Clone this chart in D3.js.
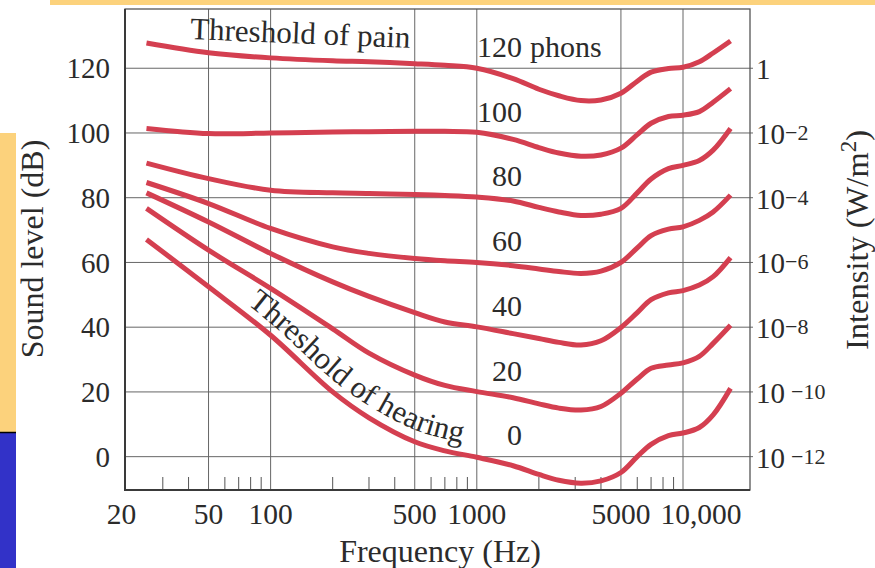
<!DOCTYPE html>
<html>
<head>
<meta charset="utf-8">
<script src="https://cdn.jsdelivr.net/npm/d3@7"></script>
<style>
  html, body { margin: 0; padding: 0; background: #fff; overflow: hidden; }
  svg { display: block; font-family: "Liberation Serif", "Times New Roman", serif; }
</style>
</head>
<body>
<script>
// Equal-loudness contours, values (Hz, dB)
const freqs = [25, 50, 100, 200, 300, 500, 700, 1000, 1500, 2000, 2500, 3200, 4000, 5000, 6000, 7000, 8500, 10000, 12000, 14000, 17000];
const phon120 = [127.8, 124.8, 123.2, 122.3, 122.0, 121.4, 120.9, 120.0, 116.8, 113.5, 111.5, 110.0, 110.2, 112.3, 116.0, 118.8, 119.9, 120.3, 122.0, 124.7, 128.4];
const phon100 = [101.4, 99.8, 100.0, 100.3, 100.4, 100.5, 100.5, 100.2, 98.0, 95.5, 93.8, 92.8, 93.2, 95.3, 99.5, 103.0, 105.1, 105.5, 106.6, 109.5, 113.7];
const phon80  = [90.7, 85.9, 82.3, 81.5, 81.3, 81.0, 80.7, 80.2, 79.0, 77.0, 75.6, 74.5, 74.9, 76.7, 81.5, 85.8, 89.0, 90.0, 91.5, 94.7, 101.4];
const phon60  = [84.7, 78.2, 70.5, 64.8, 62.8, 61.2, 60.5, 60.0, 59.0, 58.0, 57.2, 56.6, 57.3, 60.0, 64.5, 68.3, 70.3, 71.0, 73.0, 75.6, 80.8];
const phon40  = [81.5, 72.5, 62.8, 54.0, 49.5, 44.5, 41.6, 40.1, 38.0, 36.5, 35.3, 34.5, 35.8, 39.9, 44.5, 48.5, 50.6, 51.3, 53.0, 55.6, 61.5];
const phon20  = [76.7, 63.8, 52.0, 39.5, 32.0, 25.2, 22.0, 20.1, 18.2, 16.3, 15.0, 14.4, 15.5, 19.6, 24.0, 27.3, 28.3, 29.0, 31.0, 35.0, 40.6];
const phon0   = [67.1, 52.5, 37.5, 20.0, 12.0, 4.6, 1.8, -0.2, -2.8, -5.5, -7.3, -8.2, -7.5, -4.9, 0.0, 3.8, 6.5, 7.3, 9.0, 12.9, 21.1];

const phonLevels = [120, 100, 80, 60, 40, 20, 0];
const phonCurves = [phon120, phon100, phon80, phon60, phon40, phon20, phon0];

const dbTicks = [0, 20, 40, 60, 80, 100, 120];
const intensityExp = [-12, -10, -8, -6, -4, -2, 0];
const freqTicks = [20, 50, 100, 500, 1000, 5000, 10000];
const gridFreqs = [50, 100, 500, 1000, 5000, 10000];
const minorFreqs = [30, 40, 60, 70, 80, 90, 200, 300, 400, 600, 700, 800, 900, 2000, 3000, 4000, 6000, 7000, 8000, 9000];

const width = 875, height = 568;
const textColor = "#2b2b2b";
const curveColor = "#d43f50";

const svg = d3.select("body").append("svg")
    .attr("width", width)
    .attr("height", height);

// slide decorations
svg.append("rect").attr("x", 50).attr("y", 0).attr("width", 825).attr("height", 5).attr("fill", "#fcd27c");
svg.append("rect").attr("x", 0).attr("y", 133).attr("width", 16).attr("height", 299).attr("fill", "#fcd27c");
svg.append("rect").attr("x", 0).attr("y", 432).attr("width", 16).attr("height", 136).attr("fill", "#3232c8");
svg.append("line").attr("x1", 0).attr("x2", 16).attr("y1", 432.5).attr("y2", 432.5).attr("stroke", "#000").attr("stroke-width", 1.5);

// scales
const x = d3.scaleLog().domain([19.67, 21130]).range([125, 750]);
const y = d3.scaleLinear().domain([-10.3, 138.3]).range([490, 9]);

// grid
svg.append("g").selectAll("line")
    .data(dbTicks)
    .join("line")
    .attr("x1", 125).attr("x2", 753)
    .attr("y1", d => y(d)).attr("y2", d => y(d))
    .attr("stroke", "#666").attr("stroke-width", 1);

svg.append("g").selectAll("line")
    .data(gridFreqs)
    .join("line")
    .attr("x1", d => x(d)).attr("x2", d => x(d))
    .attr("y1", 9).attr("y2", 490)
    .attr("stroke", "#666").attr("stroke-width", 1);

// minor ticks on the frequency axis
svg.append("g").selectAll("line")
    .data(minorFreqs)
    .join("line")
    .attr("x1", d => x(d)).attr("x2", d => x(d))
    .attr("y1", 477).attr("y2", 490)
    .attr("stroke", "#555").attr("stroke-width", 1);

// frame
svg.append("rect")
    .attr("x", 125).attr("y", 9).attr("width", 625).attr("height", 481)
    .attr("fill", "none").attr("stroke", "#555").attr("stroke-width", 1.3);
svg.append("path")
    .attr("d", "M125,9V490H750")
    .attr("fill", "none").attr("stroke", "#3a3a3a").attr("stroke-width", 2);

// left tick labels
svg.append("g").selectAll("text")
    .data(dbTicks)
    .join("text")
    .attr("x", 110).attr("y", d => y(d)).attr("dy", "0.35em")
    .attr("text-anchor", "end")
    .attr("font-size", 29).attr("fill", textColor)
    .text(d => d);

// bottom tick labels
const fmtFreq = d => d >= 10000 ? d3.format(",")(d) : String(d);
svg.append("g").selectAll("text")
    .data(freqTicks)
    .join("text")
    .attr("x", d => x(d)).attr("y", 524)
    .attr("dx", d => d >= 10000 ? 18 : (d === 20 ? -5 : 0))
    .attr("text-anchor", "middle")
    .attr("font-size", 29.5).attr("fill", textColor)
    .text(fmtFreq);

// right intensity labels
const right = svg.append("g").selectAll("text")
    .data(dbTicks.map((d, i) => ({ db: d, exp: intensityExp[i] })))
    .join("text")
    .attr("x", 756).attr("y", d => y(d.db) + 11)
    .attr("font-size", 29).attr("fill", textColor);
right.append("tspan").text(d => d.exp === 0 ? "1" : "10");
right.filter(d => d.exp !== 0).append("tspan")
    .attr("dx", d => d.exp <= -10 ? 6 : 0)
    .attr("dy", -4)
    .attr("font-size", 22)
    .text(d => "\u2212" + Math.abs(d.exp));

// axis titles
svg.append("text")
    .attr("transform", "translate(43,249) rotate(-90)")
    .attr("text-anchor", "middle")
    .attr("font-size", 32).attr("fill", textColor)
    .text("Sound level (dB)");

const it = svg.append("text")
    .attr("transform", "translate(868,240) rotate(-90)")
    .attr("text-anchor", "middle")
    .attr("font-size", 32.5).attr("fill", textColor);
it.append("tspan").text("Intensity (W/m");
it.append("tspan").attr("dy", -12).attr("font-size", 23).text("2");
it.append("tspan").attr("dy", 12).text(")");

svg.append("text")
    .attr("x", 440).attr("y", 562)
    .attr("text-anchor", "middle")
    .attr("font-size", 32).attr("fill", textColor)
    .text("Frequency (Hz)");

// curves
const line = d3.line()
    .x(d => x(d[0]))
    .y(d => y(d[1]))
    .curve(d3.curveCatmullRom.alpha(0.5));

phonCurves.forEach(vals => {
    svg.append("path")
        .datum(freqs.map((f, i) => [f, vals[i]]))
        .attr("d", line)
        .attr("fill", "none")
        .attr("stroke", curveColor)
        .attr("stroke-width", 5);
});

// phon labels
const labelFreq = 1657;
svg.append("g").selectAll("text")
    .data(phonLevels)
    .join("text")
    .attr("x", x(labelFreq)).attr("y", d => y(d + 3.5))
    .attr("text-anchor", "end")
    .attr("font-size", 30).attr("fill", textColor)
    .text(d => d);
svg.append("text")
    .attr("x", x(labelFreq) + 8).attr("y", y(123.5))
    .attr("font-size", 30).attr("fill", textColor)
    .text("phons");

// threshold of pain
svg.append("text")
    .attr("transform", `translate(${x(40.6)},${y(129)}) rotate(2.3)`)
    .attr("font-size", 31).attr("fill", textColor)
    .text("Threshold of pain");

// threshold of hearing, following the 0-phon curve
const offsetLine = d3.line()
    .x(d => x(d[0]))
    .y(d => y(d[1]) - 12)
    .curve(d3.curveCatmullRom.alpha(0.5));
const hearPath = svg.append("path")
    .attr("id", "hear-path")
    .datum(freqs.map((f, i) => [f, phon0[i]]))
    .attr("d", offsetLine)
    .attr("fill", "none")
    .attr("stroke", "none");

const node = hearPath.node();
const total = node.getTotalLength();
let startLen = 0;
for (let l = 0; l < total; l += 0.5) {
    if (node.getPointAtLength(l).x >= 247) { startLen = l; break; }
}
svg.append("text")
    .attr("font-size", 31).attr("fill", textColor)
    .append("textPath")
    .attr("href", "#hear-path")
    .attr("startOffset", startLen)
    .text("Threshold of hearing");
</script>
</body>
</html>
